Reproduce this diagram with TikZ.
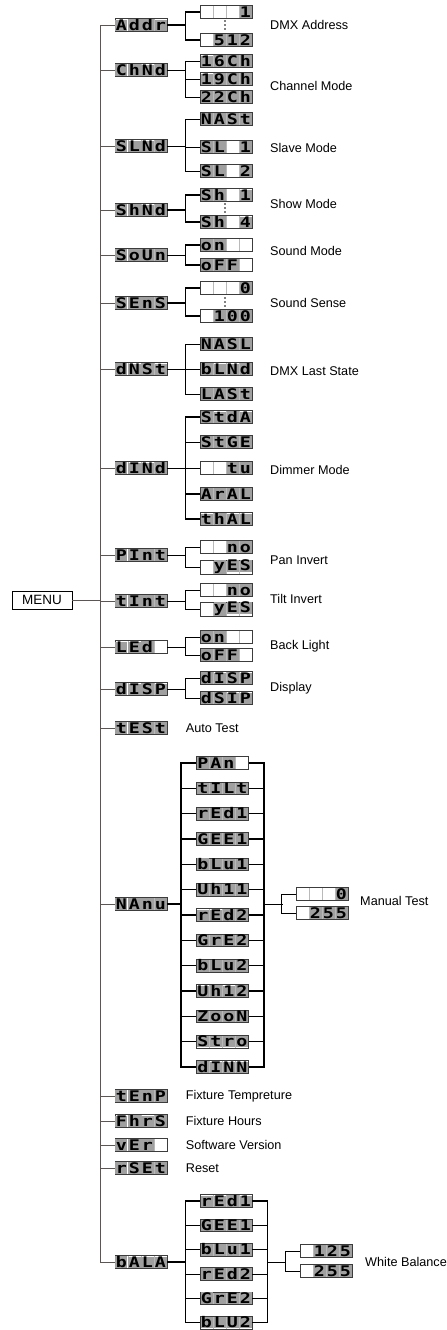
\documentclass[tikz,border=0pt]{standalone}
\usepackage{fontspec}
\setmainfont{Liberation Sans}
\newfontfamily\lcdfont{DejaVu Sans Mono}[FakeStretch=1.25, BoldFeatures={FakeStretch=1.25}]
\usetikzlibrary{positioning}

\definecolor{trunk}{RGB}{95,85,80}
\definecolor{lcdgray}{RGB}{160,160,160}
\definecolor{lcdedge}{RGB}{60,60,60}
\definecolor{lcdrule}{RGB}{185,185,185}
\setlength\fboxsep{0pt}

% one display cell, grey when it shows a sign
\newcommand\lcdcell[1]{\makebox[0.39cm]{\ifx\relax#1\relax\else\colorbox{lcdgray}{\makebox[0.36cm]{\rule[-0.02cm]{0pt}{0.34cm}#1}}\fi}}
\newcommand\lcdt[4]{\lcdcell{#1}\lcdcell{#2}\lcdcell{#3}\lcdcell{#4}}
\newcommand\lblfont{\fontsize{10.8}{12}\selectfont}

\begin{document}
\begin{tikzpicture}[
    x=0.03cm, y=-0.03cm,
    lcd/.style={draw=lcdedge, line width=0.5pt, fill=white, inner sep=0pt,
      minimum width=1.56cm, minimum height=0.38cm,
      font=\lcdfont\bfseries\fontsize{12.5}{12.5}\selectfont,
      path picture={\foreach \k in {1,2,3}
        \draw[lcdrule, line width=0.4pt] ([xshift=\k*0.39cm]path picture bounding box.south west)
          -- ([xshift=\k*0.39cm]path picture bounding box.north west);}},
    lbl/.style={anchor=west, inner sep=0pt, font=\lblfont},
    wire/.style={line width=0.6pt},
    heavy/.style={line width=1.3pt},
    stem/.style={draw=trunk, line width=0.8pt},
  ]
    \useasboundingbox (0,0) rectangle (447,1330);

    \node[draw, line width=0.6pt, minimum width=1.8cm, minimum height=0.54cm, inner sep=0pt,
      font=\fontsize{11.5}{12}\selectfont] (menu) at (42,600) {MENU};
    \coordinate (trunk) at (100,600);

    % first level
    \node[lcd] (addr) at (141,25) {\lcdt{A}{d}{d}{r}};
    \node[lcd] (chnd) at (141,70) {\lcdt{C}{h}{N}{d}};
    \node[lcd] (slnd) at (141,146) {\lcdt{S}{L}{N}{d}};
    \node[lcd] (shnd) at (141,210) {\lcdt{S}{h}{N}{d}};
    \node[lcd] (soun) at (141,255) {\lcdt{S}{o}{U}{n}};
    \node[lcd] (sens) at (141,303) {\lcdt{S}{E}{n}{S}};
    \node[lcd] (dnst) at (141,369) {\lcdt{d}{N}{S}{t}};
    \node[lcd] (dind) at (141,468) {\lcdt{d}{I}{N}{d}};
    \node[lcd] (pint) at (141,555) {\lcdt{P}{I}{n}{t}};
    \node[lcd] (tint) at (141,601) {\lcdt{t}{I}{n}{t}};
    \node[lcd] (led) at (141,647) {\lcdt{L}{E}{d}{}};
    \node[lcd] (disp) at (141,689) {\lcdt{d}{I}{S}{P}};
    \node[lcd] (test) at (141,728) {\lcdt{t}{E}{S}{t}};
    \node[lcd] (nanu) at (141,904) {\lcdt{N}{A}{n}{u}};
    \node[lcd] (temp) at (141,1096) {\lcdt{t}{E}{n}{P}};
    \node[lcd] (fhrs) at (141,1121) {\lcdt{F}{h}{r}{S}};
    \node[lcd] (ver) at (141,1145) {\lcdt{v}{E}{r}{}};
    \node[lcd] (rset) at (141,1168) {\lcdt{r}{S}{E}{t}};
    \node[lcd] (bala) at (141,1262) {\lcdt{b}{A}{L}{A}};

    \draw[stem] (menu.east) -- (trunk);
    \draw[stem] (addr.west -| trunk) -- (bala.west -| trunk);
    \foreach \n in {addr,chnd,slnd,shnd,soun,sens,dnst,dind,pint,tint,led,disp,test,nanu,temp,fhrs,ver,rset,bala}
      \draw[stem] (\n.west) -- (\n.west -| trunk);

    % second level
    \node[lcd] (addr1) at (226,12) {\lcdt{}{}{}{1}};
    \node[lcd] (addr2) at (226,40) {\lcdt{}{5}{1}{2}};
    \node[lcd] (chnd1) at (226,61) {\lcdt{1}{6}{C}{h}};
    \node[lcd] (chnd2) at (226,79) {\lcdt{1}{9}{C}{h}};
    \node[lcd] (chnd3) at (226,97) {\lcdt{2}{2}{C}{h}};
    \node[lcd] (slnd1) at (226,119) {\lcdt{N}{A}{S}{t}};
    \node[lcd] (slnd2) at (226,147) {\lcdt{S}{L}{}{1}};
    \node[lcd] (slnd3) at (226,171) {\lcdt{S}{L}{}{2}};
    \node[lcd] (shnd1) at (226,195) {\lcdt{S}{h}{}{1}};
    \node[lcd] (shnd2) at (226,222) {\lcdt{S}{h}{}{4}};
    \node[lcd] (soun1) at (226,245) {\lcdt{o}{n}{}{}};
    \node[lcd] (soun2) at (226,265) {\lcdt{o}{F}{F}{}};
    \node[lcd] (sens1) at (226,288) {\lcdt{}{}{}{0}};
    \node[lcd] (sens2) at (226,316) {\lcdt{}{1}{0}{0}};
    \node[lcd] (dnst1) at (226,344) {\lcdt{N}{A}{S}{L}};
    \node[lcd] (dnst2) at (226,369) {\lcdt{b}{L}{N}{d}};
    \node[lcd] (dnst3) at (226,394) {\lcdt{L}{A}{S}{t}};
    \node[lcd] (dind1) at (226,417) {\lcdt{S}{t}{d}{A}};
    \node[lcd] (dind2) at (226,442) {\lcdt{S}{t}{G}{E}};
    \node[lcd] (dind3) at (226,468) {\lcdt{}{}{t}{u}};
    \node[lcd] (dind4) at (226,494) {\lcdt{A}{r}{A}{L}};
    \node[lcd] (dind5) at (226,519) {\lcdt{t}{h}{A}{L}};
    \node[lcd] (pint1) at (226,547) {\lcdt{}{}{n}{o}};
    \node[lcd] (pint2) at (226,567) {\lcdt{}{y}{E}{S}};
    \node[lcd] (tint1) at (226,590) {\lcdt{}{}{n}{o}};
    \node[lcd] (tint2) at (226,609) {\lcdt{}{y}{E}{S}};
    \node[lcd] (led1) at (226,637) {\lcdt{o}{n}{}{}};
    \node[lcd] (led2) at (226,655) {\lcdt{o}{F}{F}{}};
    \node[lcd] (disp1) at (226,678) {\lcdt{d}{I}{S}{P}};
    \node[lcd] (disp2) at (226,698) {\lcdt{d}{S}{I}{P}};

    \draw[heavy] (addr.east) -- ++(19,0);
    \draw[heavy] (addr1.west) -- ++(-14,0) |- (addr2.west);
    \draw[wire] (chnd.east) -- ++(19,0);
    \draw[wire] (chnd1.west) -- ++(-14,0) |- (chnd3.west) (chnd2.west) -- ++(-14,0);
    \draw[wire] (slnd.east) -- ++(19,0);
    \draw[wire] (slnd1.west) -- ++(-14,0) |- (slnd3.west) (slnd2.west) -- ++(-14,0);
    \draw[heavy] (shnd.east) -- ++(19,0);
    \draw[heavy] (shnd1.west) -- ++(-14,0) |- (shnd2.west);
    \draw[wire] (soun.east) -- ++(19,0);
    \draw[heavy] (soun1.west) -- ++(-14,0) |- (soun2.west);
    \draw[heavy] (sens.east) -- ++(19,0);
    \draw[heavy] (sens1.west) -- ++(-14,0) |- (sens2.west);
    \draw[wire] (dnst.east) -- ++(19,0);
    \draw[wire] (dnst1.west) -- ++(-14,0) |- (dnst3.west) (dnst2.west) -- ++(-14,0);
    \draw[wire] (dind.east) -- ++(19,0);
    \draw[heavy] (dind1.west) -- ++(-14,0) |- (dind5.west) (dind4.west) -- ++(-14,0);
    \draw[wire] (dind2.west) -- ++(-14,0) (dind3.west) -- ++(-14,0);
    \foreach \n in {pint,tint,led,disp} {
      \draw[wire] (\n.east) -- ++(19,0);
      \draw[wire] (\n1.west) -- ++(-14,0) |- (\n2.west);
    }
    \foreach \n/\y in {addr/21,addr/25,addr/29,shnd/204,shnd/208,shnd/212,sens/298,sens/302,sens/306}
      \fill (225,\y) circle (0.7pt);

    \node[lbl] at (270,25) {DMX Address};
    \node[lbl] at (270,86) {Channel Mode};
    \node[lbl] at (270,148) {Slave Mode};
    \node[lbl] at (270,204) {Show Mode};
    \node[lbl] at (270,251) {Sound Mode};
    \node[lbl] at (270,303) {Sound Sense};
    \node[lbl] at (270,371) {DMX Last State};
    \node[lbl] at (270,470) {Dimmer Mode};
    \node[lbl] at (270,560) {Pan Invert};
    \node[lbl] at (270,599) {Tilt Invert};
    \node[lbl] at (270,646) {Back Light};
    \node[lbl] at (270,688) {Display};

    \node[lbl, right=0.55cm of test] {Auto Test};
    \node[lbl, right=0.55cm of temp] {Fixture Tempreture};
    \node[lbl, right=0.55cm of fhrs] {Fixture Hours};
    \node[lbl, right=0.55cm of ver] {Software Version};
    \node[lbl, right=0.55cm of rset] {Reset};

    % manual test
    \foreach \t [count=\i] in {{\lcdt{P}{A}{n}{}},{\lcdt{t}{I}{L}{t}},{\lcdt{r}{E}{d}{1}},{\lcdt{G}{E}{E}{1}},
        {\lcdt{b}{L}{u}{1}},{\lcdt{U}{h}{1}{1}},{\lcdt{r}{E}{d}{2}},{\lcdt{G}{r}{E}{2}},{\lcdt{b}{L}{u}{2}},
        {\lcdt{U}{h}{1}{2}},{\lcdt{Z}{o}{o}{N}},{\lcdt{S}{t}{r}{o}},{\lcdt{d}{I}{N}{N}}}
      \node[lcd] (nanu\i) at (222.5,{763+25.33*(\i-1)}) {\t};
    \draw[heavy] (nanu.east) -- ++(15,0);
    \draw[heavy] (nanu1.west) -- ++(-15,0) |- (nanu13.west);
    \draw[heavy] (nanu1.east) -- ++(15,0) |- (nanu13.east);
    \foreach \i in {2,...,12}
      \draw[heavy] (nanu\i.west) -- ++(-15,0) (nanu\i.east) -- ++(15,0);
    \path (nanu -| nanu1.east) ++(15,0) coordinate (nanubus);
    \node[lcd] (mant1) at (322,894) {\lcdt{}{}{}{0}};
    \node[lcd] (mant2) at (322,913) {\lcdt{}{2}{5}{5}};
    \draw[wire] (nanubus) -- ++(19,0);
    \draw[wire] (mant1.west) -- ++(-14,0) |- (mant2.west);
    \node[lbl] at (360,901) {Manual Test};

    % white balance
    \foreach \t [count=\i] in {{\lcdt{r}{E}{d}{1}},{\lcdt{G}{E}{E}{1}},{\lcdt{b}{L}{u}{1}},
        {\lcdt{r}{E}{d}{2}},{\lcdt{G}{r}{E}{2}},{\lcdt{b}{L}{U}{2}}}
      \node[lcd] (bala\i) at (226,{1201+24.3*(\i-1)}) {\t};
    \draw[heavy] (bala.east) -- ++(19,0);
    \draw[heavy] (bala1.west) -- ++(-14,0) |- (bala6.west);
    \draw[heavy] (bala1.east) -- ++(15,0) |- (bala6.east);
    \foreach \i in {2,...,5}
      \draw[wire] (bala\i.west) -- ++(-14,0) (bala\i.east) -- ++(15,0);
    \path (bala -| bala1.east) ++(15,0) coordinate (balabus);
    \node[lcd] (whit1) at (326,1251) {\lcdt{}{1}{2}{5}};
    \node[lcd] (whit2) at (326,1271) {\lcdt{}{2}{5}{5}};
    \draw[wire] (balabus) -- ++(19,0);
    \draw[wire] (whit1.west) -- ++(-14,0) |- (whit2.west);
    \node[lbl] at (365,1262) {White Balance};
  \end{tikzpicture}
\end{document}
